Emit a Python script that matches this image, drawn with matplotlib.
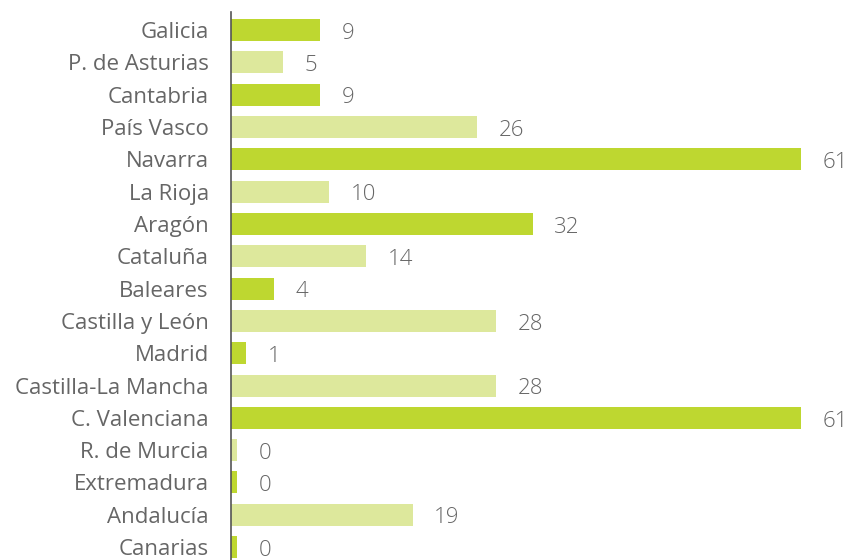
import matplotlib.pyplot as plt
import numpy as np

regiones = ["Galicia", "P. de Asturias", "Cantabria", "País Vasco", "Navarra",
            "La Rioja", "Aragón", "Cataluña", "Baleares", "Castilla y León",
            "Madrid", "Castilla-La Mancha", "C. Valenciana", "R. de Murcia",
            "Extremadura", "Andalucía", "Canarias"]
valores = [9, 5, 9, 26, 61, 10, 32, 14, 4, 28, 1, 28, 61, 0, 0, 19, 0]

plt.rcParams['font.family'] = ['Open Sans', 'DejaVu Sans']

fig = plt.figure(figsize=(8.48, 5.6), dpi=100)
ax = fig.add_axes([231 / 848, 0, 1 - 231 / 848, 1 - 12 / 560])

base = -0.65  # pequeño tramo visible para los valores 0
y = np.arange(len(regiones))
cols = ["#bed730" if i % 2 == 0 else "#dde89c" for i in range(len(regiones))]
ax.barh(y, np.array(valores) - base, left=base, height=0.68, color=cols)

for yi, v in zip(y, valores):
    ax.annotate(str(v), (v, yi), xytext=(15.5, -0.5), textcoords="offset points",
                ha="left", va="center_baseline", fontsize=16, color="#666666",
                fontweight="light")

ax.set_yticks(y)
ax.set_yticklabels(regiones)
ax.tick_params(axis="y", length=0, pad=16, labelsize=16, labelcolor="#666666")
for lab in ax.get_yticklabels():
    lab.set_fontweight("light")
    lab.set_va("center_baseline")
ax.set_xticks([])
ax.set_xlim(base, 66.1)
ax.set_ylim(16.4, -0.56)
for s in ["top", "right", "bottom"]:
    ax.spines[s].set_visible(False)
ax.spines["left"].set_position(("data", base))
ax.spines["left"].set_color("#555555")
ax.spines["left"].set_linewidth(1.2)

fig.savefig("out.png", dpi=100)
